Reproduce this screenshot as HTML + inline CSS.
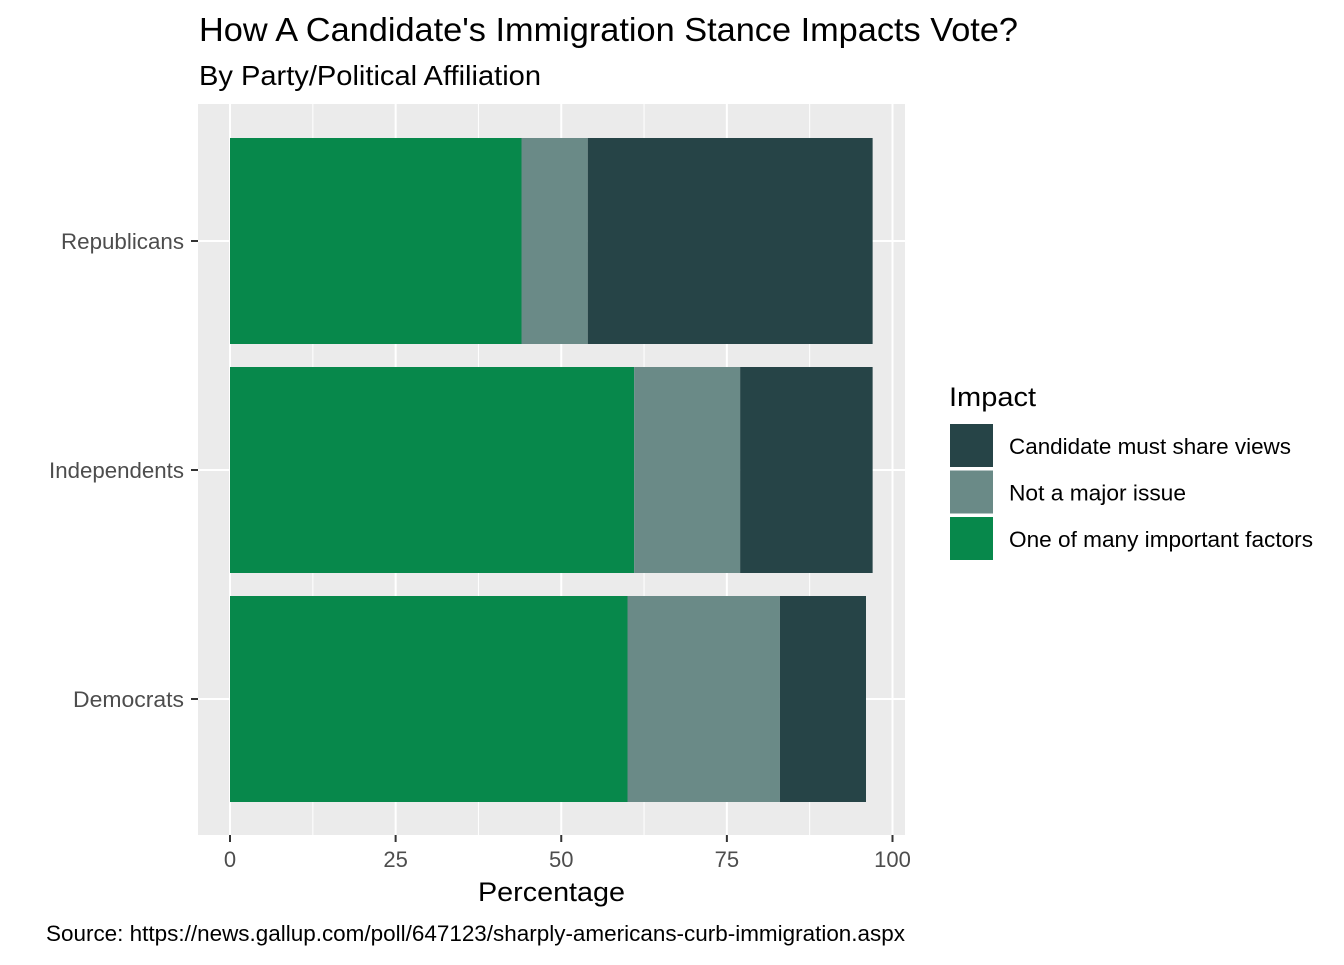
<!DOCTYPE html>
<html><head><meta charset="utf-8"><style>
body{margin:0;background:#fff;font-family:"Liberation Sans",Arial,sans-serif}
</style></head><body>
<svg width="1344" height="960" xmlns="http://www.w3.org/2000/svg" font-family="Liberation Sans, Arial, sans-serif">
<text x="199" y="41" font-size="33" textLength="819" lengthAdjust="spacingAndGlyphs" fill="#000">How A Candidate's Immigration Stance Impacts Vote?</text>
<text x="199" y="85" font-size="28" textLength="342" lengthAdjust="spacingAndGlyphs" fill="#000">By Party/Political Affiliation</text>
<rect x="198" y="104" width="707" height="731" fill="#EBEBEB"/>
<g id="grid"></g>
<g id="bars"></g>
<g id="axes"></g>
<text x="478" y="901" font-size="27" textLength="147" lengthAdjust="spacingAndGlyphs" fill="#000">Percentage</text>
<text x="46" y="941" font-size="22" textLength="859" lengthAdjust="spacingAndGlyphs" fill="#000">Source: https://news.gallup.com/poll/647123/sharply-americans-curb-immigration.aspx</text>
<g>
<text x="949" y="406" font-size="27" textLength="87" lengthAdjust="spacingAndGlyphs" fill="#000">Impact</text>
<g id="legend"></g>
</g>
</svg>
<script>
const categories = ["Republicans","Independents","Democrats"];
const mustShare = [43,20,13];
const notMajor = [10,16,23];
const oneOfMany = [44,61,60];
const xTicks = [0,25,50,75,100];
const seriesNames = ["Candidate must share views","Not a major issue","One of many important factors"];
const colors = ["#264447","#6A8A87","#07884B"];
const catWidths = [123,135,111];
const legWidths = [282,177,304];
const NS="http://www.w3.org/2000/svg";
const x = v => 230 + v*6.625;
const yc = i => 241 + i*229;
const bh = 206;
function mk(tag, attrs, parent){const e=document.createElementNS(NS,tag);for(const k in attrs)e.setAttribute(k,attrs[k]);parent.appendChild(e);return e;}
const grid=document.getElementById('grid'), bars=document.getElementById('bars'), axes=document.getElementById('axes'), legend=document.getElementById('legend');
for(let i=0;i<xTicks.length-1;i++){
  const m=(xTicks[i]+xTicks[i+1])/2;
  const l=mk('line',{x1:x(m),x2:x(m),y1:104,y2:835,stroke:'#fff','stroke-width':1},grid);
  
  
}
xTicks.forEach(t=>{
  const l=mk('line',{x1:x(t),x2:x(t),y1:104,y2:835,stroke:'#fff','stroke-width':2},grid);
  
  
  const tk=mk('line',{x1:x(t),x2:x(t),y1:835,y2:842,stroke:'#333','stroke-width':2},axes);
  
  
  const tx=mk('text',{x:x(t),y:867,'font-size':22,'text-anchor':'middle',fill:'#4D4D4D'},axes);
  tx.textContent=t;
  
  
});
categories.forEach((c,i)=>{
  const y=yc(i);
  const g=mk('line',{x1:198,x2:905,y1:y,y2:y,stroke:'#fff','stroke-width':2},grid);
  
  
  const segs=[oneOfMany[i],notMajor[i],mustShare[i]];
  const cols=[colors[2],colors[1],colors[0]];
  const names=['bar-one-of-many','bar-not-major','bar-must-share'];
  let s=0;
  segs.forEach((v,j)=>{
    const r=mk('rect',{x:x(s),y:y-bh/2,width:x(s+v)-x(s),height:bh,fill:cols[j]},bars);
    
    
    s+=v;
  });
  const tk=mk('line',{x1:191,x2:198,y1:y,y2:y,stroke:'#333','stroke-width':2},axes);
  
  
  const tx=mk('text',{x:184-catWidths[i],y:y+8,'font-size':22,textLength:catWidths[i],lengthAdjust:'spacingAndGlyphs',fill:'#4D4D4D'},axes);
  tx.textContent=c;
  
  
});
seriesNames.forEach((n,i)=>{
  const y=423+i*46.5;
  const r=mk('rect',{x:949,y:y,width:45,height:45,fill:colors[i],stroke:'#fff','stroke-width':2},legend);
  
  
  const t=mk('text',{x:1009,y:y+31,'font-size':22,textLength:legWidths[i],lengthAdjust:'spacingAndGlyphs',fill:'#000'},legend);
  t.textContent=n;
  
  
});
</script>
</body></html>
